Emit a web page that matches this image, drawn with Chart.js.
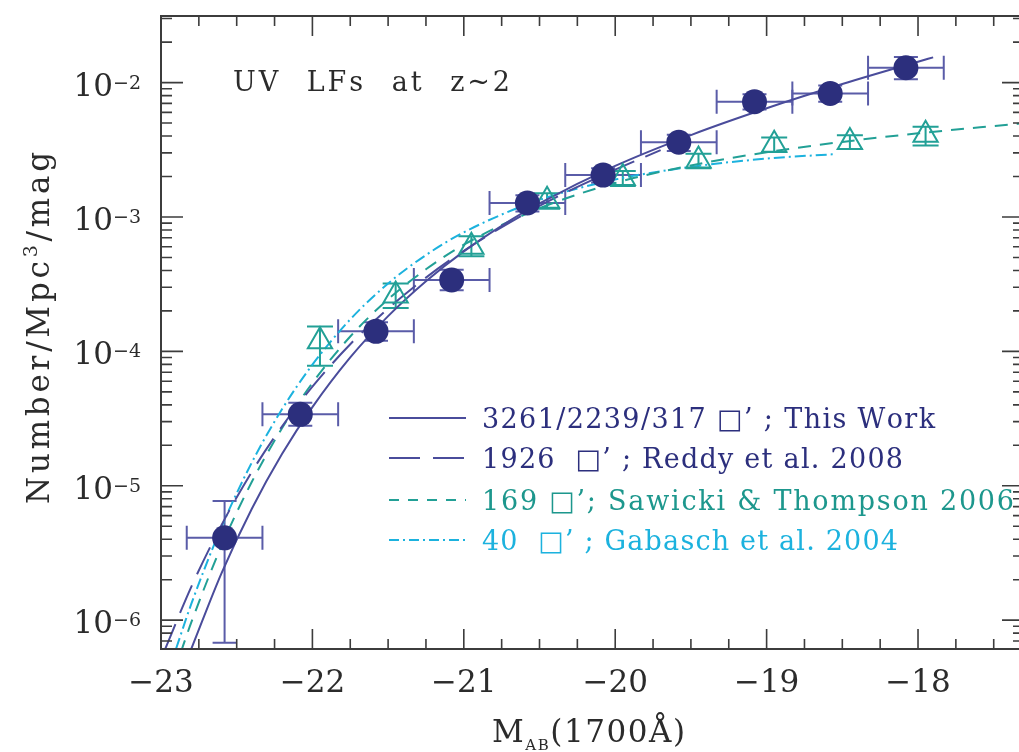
<!DOCTYPE html>
<html>
<head>
<meta charset="utf-8">
<title>UV LFs at z~2</title>
<script src="https://cdn.jsdelivr.net/npm/chart.js@4.4.1/dist/chart.umd.min.js"></script>
<style>
  html, body { margin: 0; padding: 0; background: #fff; overflow: hidden; }
  #wrap { width: 1040px; height: 752px; }
</style>
</head>
<body>
<div id="wrap"><canvas id="lf" width="1040" height="752"></canvas></div>
<script>
// ---- This work: binned UV luminosity function (filled circles) ----
const thisWorkMag     = [-22.58, -22.08, -21.58, -21.08, -20.58, -20.08, -19.58, -19.08, -18.58, -18.08];
const thisWorkPhi     = [4.1e-6, 3.4e-5, 1.41e-4, 3.4e-4, 1.27e-3, 2.05e-3, 3.6e-3, 7.2e-3, 8.3e-3, 1.29e-2];
const thisWorkPhiLo   = [6.8e-7, 2.8e-5, 1.2e-4, 2.85e-4, 1.1e-3, 1.8e-3, 3.1e-3, 6.3e-3, 7.2e-3, 1.06e-2];
const thisWorkPhiHi   = [7.7e-6, 4.15e-5, 1.65e-4, 4.05e-4, 1.45e-3, 2.3e-3, 4.1e-3, 8.2e-3, 9.5e-3, 1.55e-2];
const thisWorkBinHalf = [0.25, 0.25, 0.25, 0.25, 0.25, 0.25, 0.25, 0.25, 0.25, 0.25];

// ---- Sawicki & Thompson 2006: binned values (open triangles) ----
const stMag   = [-21.95, -21.45, -20.95, -20.45, -19.95, -19.45, -18.95, -18.45, -17.95];
const stPhi   = [1.19e-4, 2.6e-4, 6.0e-4, 1.32e-3, 1.95e-3, 2.63e-3, 3.45e-3, 3.62e-3, 4.1e-3];
const stPhiLo = [7.8e-5, 2.1e-4, 5.1e-4, 1.15e-3, 1.7e-3, 2.3e-3, 3.05e-3, 3.2e-3, 3.4e-3];
const stPhiHi = [1.53e-4, 3.2e-4, 7.2e-4, 1.5e-3, 2.2e-3, 2.95e-3, 3.9e-3, 4.05e-3, 4.7e-3];

// ---- Schechter fits, sampled along each curve ----
const fitThisMag = [-22.8, -22.6, -22.4, -22.2, -22.0, -21.75, -21.5, -21.25, -21.0, -20.75, -20.5, -20.0, -19.5, -19.0, -18.5, -18.0, -17.9];
const fitThisPhi = [6.11e-7, 2.24e-6, 6.75e-6, 1.73e-5, 3.85e-5, 9.02e-5, 1.83e-4, 3.33e-4, 5.55e-4, 8.59e-4, 1.26e-3, 2.40e-3, 4.07e-3, 6.44e-3, 9.75e-3, 1.43e-2, 1.54e-2];

const fitReddyMag = [-22.98, -22.8, -22.6, -22.4, -22.2, -22.0, -21.75, -21.5, -21.25, -21.0, -20.5, -20.0, -19.7];
const fitReddyPhi = [5.81e-7, 1.77e-6, 5.11e-6, 1.27e-5, 2.77e-5, 5.46e-5, 1.13e-4, 2.08e-4, 3.54e-4, 5.60e-4, 1.21e-3, 2.25e-3, 3.14e-3];

const fitSawickiMag = [-22.87, -22.8, -22.6, -22.4, -22.2, -22.0, -21.75, -21.5, -21.25, -21.0, -20.5, -20.0, -19.5, -19.0, -18.5, -18.0, -17.5, -17.3];
const fitSawickiPhi = [5.73e-7, 9.62e-7, 3.58e-6, 1.07e-5, 2.69e-5, 5.82e-5, 1.29e-4, 2.44e-4, 4.08e-4, 6.22e-4, 1.16e-3, 1.79e-3, 2.42e-3, 3.03e-3, 3.62e-3, 4.19e-3, 4.75e-3, 4.98e-3];

const fitGabaschMag = [-22.9, -22.8, -22.6, -22.4, -22.2, -22.0, -21.75, -21.5, -21.25, -21.0, -20.5, -20.0, -19.5, -19.0, -18.54];
const fitGabaschPhi = [6.15e-7, 1.32e-6, 4.94e-6, 1.49e-5, 3.72e-5, 7.96e-5, 1.73e-4, 3.20e-4, 5.21e-4, 7.69e-4, 1.34e-3, 1.90e-3, 2.36e-3, 2.72e-3, 2.94e-3];

// ---- Axes ----
const xTickValues = [-23, -22, -21, -20, -19, -18];
const xTickLabels = ['\u221223', '\u221222', '\u221221', '\u221220', '\u221219', '\u221218'];
const yTickExponents = [-6, -5, -4, -3, -2];
const yTickLabels = ['\u22126', '\u22125', '\u22124', '\u22123', '\u22122'];

// ---- Legend ----
const legendLabels = [
  '3261/2239/317 \u25A1\u2019 ; This Work',
  '1926  \u25A1\u2019 ; Reddy et al. 2008',
  '169 \u25A1\u2019; Sawicki & Thompson 2006',
  '40  \u25A1\u2019 ; Gabasch et al. 2004'
];

const NAVY = '#2c2f7d';
const NAVY_LINE = '#4a4c9b';
const NAVY_ERR = '#5a5ca8';
const TEAL = '#22a096';
const CYAN = '#1cb2de';
const INK = '#2b2b2b';
const FONT = '"DejaVu Serif", "Liberation Serif", serif';

const pts = (xs, ys) => xs.map((v, i) => ({ x: v, y: ys[i] }));

// Text drawn glyph by glyph; extra room for a requested width is shared out
// between glyphs, with blanks taking `spaceWeight` shares each
function runsWidth(ctx, runs, spaceWeight) {
  let w = 0, shares = 0, count = 0;
  for (const r of runs) {
    ctx.font = r.size + 'px ' + FONT;
    for (const ch of r.text) {
      w += ctx.measureText(ch).width;
      shares += ch === ' ' ? spaceWeight : 1;
      count++;
    }
  }
  return { w, shares, count };
}
function drawRuns(ctx, runs, x, y, align, width, spaceWeight) {
  const sw = spaceWeight || 1;
  const m = runsWidth(ctx, runs, sw);
  let unit = 0;
  if (width && m.count > 1) unit = (width - m.w) / Math.max(1, m.shares - 1);
  const total = width || m.w;
  let cx = align === 'center' ? x - total / 2 : (align === 'right' ? x - total : x);
  ctx.textAlign = 'left';
  ctx.textBaseline = 'alphabetic';
  for (const r of runs) {
    ctx.font = r.size + 'px ' + FONT;
    if (r.color) ctx.fillStyle = r.color;
    for (const ch of r.text) {
      ctx.fillText(ch, cx, y + (r.dy || 0));
      cx += ctx.measureText(ch).width + unit * (ch === ' ' ? sw : 1);
    }
  }
}

// Error bars under the markers
const errorBarPlugin = {
  id: 'errorBars',
  beforeDatasetsDraw(chart) {
    const { ctx, scales: { x, y } } = chart;
    ctx.save();
    ctx.lineWidth = 2;
    ctx.strokeStyle = NAVY_ERR;
    thisWorkMag.forEach((m, i) => {
      const px = x.getPixelForValue(m), py = y.getPixelForValue(thisWorkPhi[i]);
      const lo = y.getPixelForValue(thisWorkPhiLo[i]), hi = y.getPixelForValue(thisWorkPhiHi[i]);
      const xl = x.getPixelForValue(m - thisWorkBinHalf[i]), xr = x.getPixelForValue(m + thisWorkBinHalf[i]);
      ctx.beginPath();
      ctx.moveTo(px, lo); ctx.lineTo(px, hi);
      ctx.moveTo(px - 12, lo); ctx.lineTo(px + 12, lo);
      ctx.moveTo(px - 12, hi); ctx.lineTo(px + 12, hi);
      ctx.moveTo(xl, py); ctx.lineTo(xr, py);
      ctx.moveTo(xl, py - 12); ctx.lineTo(xl, py + 12);
      ctx.moveTo(xr, py - 12); ctx.lineTo(xr, py + 12);
      ctx.stroke();
    });
    ctx.strokeStyle = TEAL;
    stMag.forEach((m, i) => {
      const px = x.getPixelForValue(m);
      const lo = y.getPixelForValue(stPhiLo[i]), hi = y.getPixelForValue(stPhiHi[i]);
      ctx.beginPath();
      ctx.moveTo(px, lo); ctx.lineTo(px, hi);
      ctx.moveTo(px - 13, lo); ctx.lineTo(px + 13, lo);
      ctx.moveTo(px - 13, hi); ctx.lineTo(px + 13, hi);
      ctx.stroke();
    });
    ctx.restore();
  }
};

// Box, inward ticks, tick labels, axis titles, title and legend
const framePlugin = {
  id: 'frame',
  afterDraw(chart) {
    const { ctx, chartArea: a, scales: { x, y } } = chart;
    ctx.save();
    ctx.strokeStyle = '#3c3c3c';
    ctx.lineWidth = 2;
    ctx.strokeRect(a.left, a.top, a.right - a.left, a.bottom - a.top);

    ctx.lineWidth = 1.6;
    ctx.beginPath();
    const xStep = 0.25;
    for (let k = 0; ; k++) {
      const m = x.min + k * xStep;
      if (m > x.max + 1e-9) break;
      const major = Math.abs(m - Math.round(m)) < 1e-6;
      const len = major ? 20 : 10;
      const px = x.getPixelForValue(m);
      ctx.moveTo(px, a.bottom); ctx.lineTo(px, a.bottom - len);
      ctx.moveTo(px, a.top); ctx.lineTo(px, a.top + len);
    }
    for (let e = -7; e <= -1; e++) {
      for (let d = 1; d <= 9; d++) {
        const v = d * Math.pow(10, e);
        if (v < y.min || v > y.max) continue;
        const len = d === 1 ? 22 : 11;
        const py = y.getPixelForValue(v);
        ctx.moveTo(a.left, py); ctx.lineTo(a.left + len, py);
        ctx.moveTo(a.right, py); ctx.lineTo(a.right - len, py);
      }
    }
    ctx.stroke();

    ctx.fillStyle = INK;
    // y tick labels: 10 with a superscript exponent
    yTickExponents.forEach((e, i) => {
      const py = y.getPixelForValue(Math.pow(10, e));
      drawRuns(ctx, [{ text: '10', size: 31 }, { text: yTickLabels[i], size: 19, dy: -7 }], 141, py + 13, 'right');
    });
    // x tick labels
    xTickValues.forEach((v, i) => {
      drawRuns(ctx, [{ text: xTickLabels[i], size: 31 }], x.getPixelForValue(v), 692, 'center');
    });
    // x axis title
    drawRuns(ctx, [
      { text: 'M', size: 31 },
      { text: 'AB', size: 15, dy: 8 },
      { text: '(1700\u00C5)', size: 31 }
    ], 492, 742, 'left', 193);
    // y axis title
    ctx.save();
    ctx.translate(49, 328);
    ctx.rotate(-Math.PI / 2);
    drawRuns(ctx, [
      { text: 'Number/Mpc', size: 31 },
      { text: '3', size: 19, dy: -12 },
      { text: '/mag', size: 31 }
    ], 0, 0, 'center', 352);
    ctx.restore();
    // panel title
    drawRuns(ctx, [{ text: 'UV LFs at z~2', size: 27 }], 233, 91, 'left', 277, 6);

    // legend
    const rowsY = [418, 458, 500, 540];
    const rowStyles = [
      { color: NAVY_LINE, text: NAVY, dash: [] },
      { color: NAVY_LINE, text: NAVY, dash: [31, 13] },
      { color: TEAL, text: '#1d978d', dash: [10, 9] },
      { color: CYAN, text: CYAN, dash: [10, 4, 2, 4] }
    ];
    const rowWidths = [453, 421, 532, 416];
    legendLabels.forEach((lab, i) => {
      const st = rowStyles[i];
      ctx.strokeStyle = st.color;
      ctx.lineWidth = 2.2;
      ctx.setLineDash(st.dash);
      ctx.beginPath();
      ctx.moveTo(389, rowsY[i]); ctx.lineTo(466, rowsY[i]);
      ctx.stroke();
      ctx.setLineDash([]);
      ctx.fillStyle = st.text;
      drawRuns(ctx, [{ text: lab, size: 27 }], 482, rowsY[i] + 10, 'left', rowWidths[i]);
    });
    ctx.restore();
  }
};

const lineDs = (xs, ys, color, dash) => ({
  data: pts(xs, ys),
  showLine: true,
  pointRadius: 0,
  borderColor: color,
  borderWidth: 2,
  borderDash: dash,
  cubicInterpolationMode: 'monotone',
  fill: false
});

new Chart(document.getElementById('lf'), {
  type: 'scatter',
  data: {
    datasets: [
      {
        data: pts(thisWorkMag, thisWorkPhi),
        pointStyle: 'circle',
        pointRadius: 12.5,
        backgroundColor: NAVY,
        borderColor: NAVY,
        borderWidth: 0
      },
      {
        data: pts(stMag, stPhi),
        pointStyle: 'triangle',
        pointRadius: 14,
        backgroundColor: 'rgba(0,0,0,0)',
        borderColor: TEAL,
        borderWidth: 2
      },
      lineDs(fitThisMag, fitThisPhi, NAVY_LINE, []),
      lineDs(fitReddyMag, fitReddyPhi, NAVY_LINE, [30, 12]),
      lineDs(fitSawickiMag, fitSawickiPhi, TEAL, [13, 9]),
      lineDs(fitGabaschMag, fitGabaschPhi, CYAN, [11, 4, 2, 4])
    ]
  },
  options: {
    responsive: false,
    animation: false,
    layout: { padding: { left: 161, top: 13, right: 13, bottom: 103 } },
    plugins: { legend: { display: false }, tooltip: { enabled: false } },
    scales: {
      x: { type: 'linear', min: -23, max: -17.3, display: false },
      y: { type: 'logarithmic', min: 6.1e-7, max: 3.13e-2, display: false }
    }
  },
  plugins: [errorBarPlugin, framePlugin]
});
</script>
</body>
</html>
